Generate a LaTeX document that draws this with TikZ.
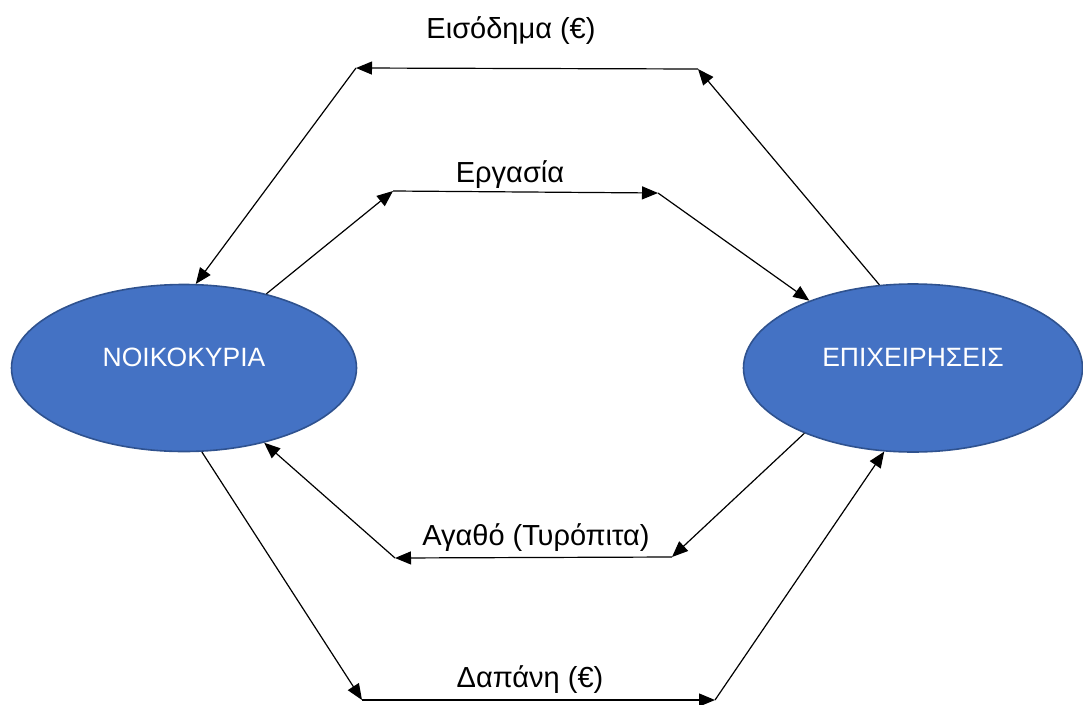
\documentclass[tikz,border=0pt]{standalone}
\usepackage{fontspec}
\setmainfont{Liberation Sans}
\usetikzlibrary{arrows.meta,shapes.geometric}
\definecolor{agentfill}{HTML}{4472C4}
\definecolor{agentdraw}{HTML}{2F528F}

\begin{document}
\begin{tikzpicture}[x=1pt,y=-1pt
    , agent/.style = {ellipse,draw=agentdraw,fill=agentfill,line width=1.6pt,inner sep=0pt}
    , agenttext/.style = {text=white,font=\fontsize{26.5}{32}\selectfont}
    , lbl/.style = {anchor=base,font=\fontsize{29}{34}\selectfont}
    , flow/.style = {line width=1.2pt,-{Triangle[length=16pt,width=13pt]}}
]
\useasboundingbox (0,0) rectangle (1083,704);
% the two agents
\node[agent,minimum width=345pt,minimum height=167pt] (nik) at (184,368) {};
\node[agent,minimum width=339pt,minimum height=168pt] (epi) at (913,368) {};
\node[agenttext] (nik-t) at ([yshift=11pt]nik.center) {ΝΟΙΚΟΚΥΡΙΑ};
\node[agenttext] (epi-t) at ([yshift=11pt]epi.center) {ΕΠΙΧΕΙΡΗΣΕΙΣ};
% corners of the flows
\coordinate (eis-l) at (356,68);
\coordinate (eis-r) at (698,69);
\coordinate (erg-l) at (393,191);
\coordinate (erg-r) at (658,193);
\coordinate (aga-r) at (672,557);
\coordinate (aga-l) at (395,558);
\coordinate (dap-l) at (362,700);
\coordinate (dap-r) at (715,700);
% labels
\node[lbl] (eis) at (511,38) {Εισόδημα (€)};
\node[lbl] (erg) at (510,182) {Εργασία};
\node[lbl] (aga) at (536,545) {Αγαθό (Τυρόπιτα)};
\node[lbl] (dap) at (530,687) {Δαπάνη (€)};
% income
\draw[flow] (epi.112) -- (eis-r);
\draw[flow] (eis-r) -- (eis-l);
\draw[flow] (eis-l) -- (nik.82);
% labour
\draw[flow] (nik.42) -- (erg-l);
\draw[flow] (erg-l) -- (erg-r);
\draw[flow] (erg-r) -- (epi.147);
% goods
\draw[flow] (epi.211) -- (aga-r);
\draw[flow] (aga-r) -- (aga-l);
\draw[flow] (aga-l) -- (nik.-43);
% spending
\draw[flow] (nik.-78) -- (dap-l);
\draw[flow] (dap-l) -- (dap-r);
\draw[flow] (dap-r) -- (epi.251);
\end{tikzpicture}
\end{document}
